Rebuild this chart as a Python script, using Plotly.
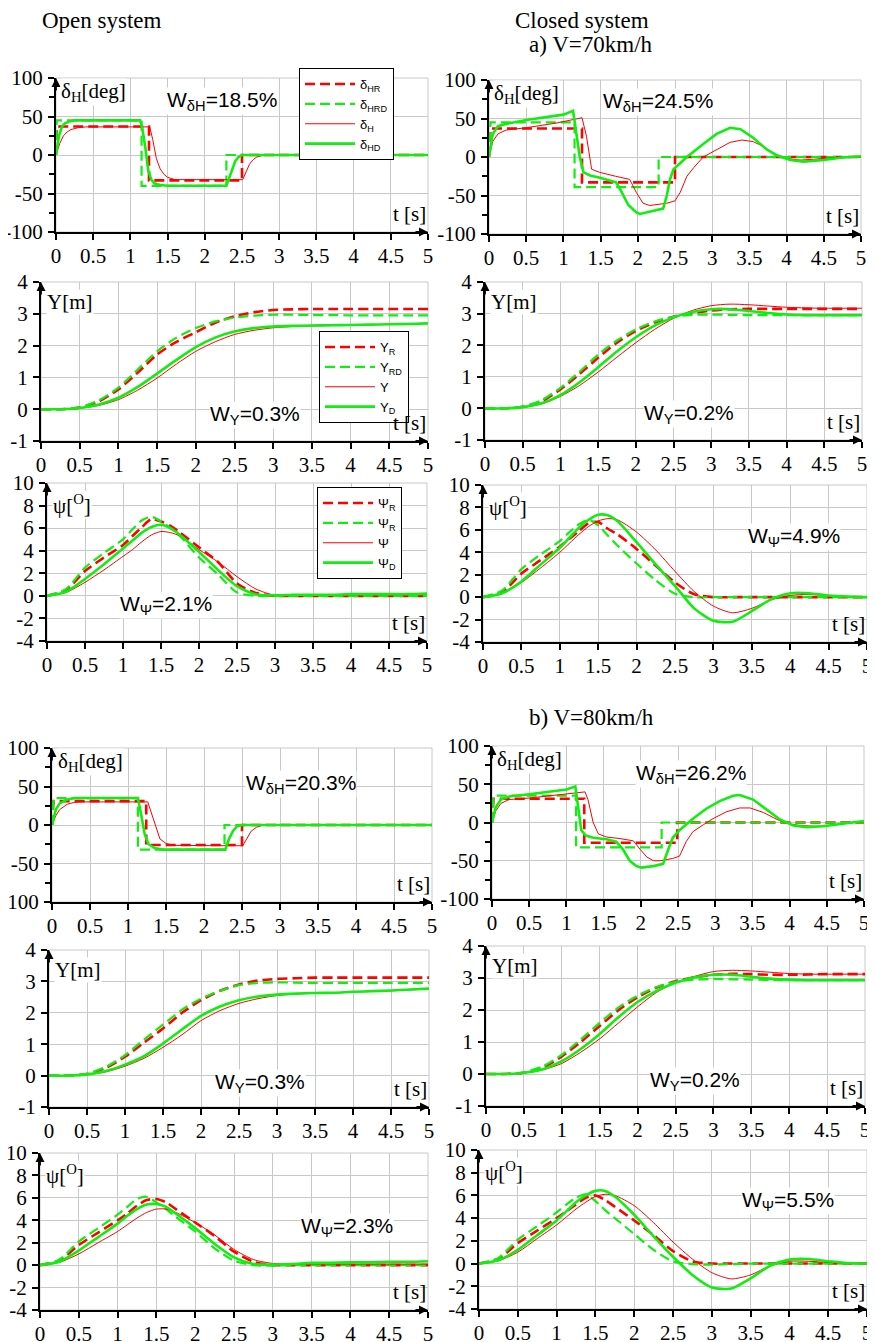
import plotly.graph_objects as go

# ---------------- tick labels ----------------
X_TICKS = [0, 0.5, 1, 1.5, 2, 2.5, 3, 3.5, 4, 4.5, 5]
X_TICK_TEXT = ["0", "0.5", "1", "1.5", "2", "2.5", "3", "3.5", "4", "4.5", "5"]
DH_TICKS = [-100, -50, 0, 50, 100]
DH_TICK_TEXT = ["-100", "-50", "0", "50", "100"]
DH_MINOR = [-75, -25, 25, 75]
Y_TICKS = [-1, 0, 1, 2, 3, 4]
Y_TICK_TEXT = ["-1", "0", "1", "2", "3", "4"]
PSI_TICKS = [-4, -2, 0, 2, 4, 6, 8, 10]
PSI_TICK_TEXT = ["-4", "-2", "0", "2", "4", "6", "8", "10"]

DH_NAMES = ["δ<sub>HR</sub>", "δ<sub>HRD</sub>", "δ<sub>H</sub>", "δ<sub>HD</sub>"]
Y_NAMES = ["Y<sub>R</sub>", "Y<sub>RD</sub>", "Y", "Y<sub>D</sub>"]
PSI_NAMES = ["Ψ<sub>R</sub>", "Ψ<sub>R</sub>", "Ψ", "Ψ<sub>D</sub>"]

HEADERS = ["Open system", "Closed system", "a) V=70km/h", "b) V=80km/h"]
W_LABELS = ["W<sub>δH</sub>=18.5%", "W<sub>δH</sub>=24.5%", "W<sub>Y</sub>=0.3%", "W<sub>Y</sub>=0.2%",
            "W<sub>Ψ</sub>=2.1%", "W<sub>Ψ</sub>=4.9%", "W<sub>δH</sub>=20.3%", "W<sub>δH</sub>=26.2%",
            "W<sub>Y</sub>=0.3%", "W<sub>Y</sub>=0.2%", "W<sub>Ψ</sub>=2.3%", "W<sub>Ψ</sub>=5.5%"]
W_X = [2.23, 2.27, 2.76, 2.7, 1.57, 4.05, 3.28, 2.67, 2.78, 2.76, 3.96, 3.98]
W_Y = [70, 71, -0.18, -0.18, -0.8, 5.36, 53, 63, -0.24, -0.22, 3.4, 5.5]

# ---------------- a) V=70 km/h, open system ----------------
A_OPEN_DHR_T = [0, 0.01, 1.25, 1.25, 2.5, 2.5, 5]
A_OPEN_DHR = [0, 37, 37, -33, -33, 0, 0]
A_OPEN_DHRD_T = [0, 0.01, 1.15, 1.15, 2.29, 2.29, 5]
A_OPEN_DHRD = [0, 45, 45, -40, -40, 0, 0]
A_OPEN_DH_T = [0, 0.05, 0.1, 0.15, 0.2, 0.3, 0.4, 1.26, 1.3, 1.35, 1.4, 1.45, 1.5, 1.6, 2.51, 2.55, 2.6, 2.65, 2.7, 2.8, 5]
A_OPEN_DH = [0, 15, 25, 30, 33, 35.5, 36.5, 36.5, 20, -5, -18, -25, -29, -32, -32, -22, -12, -6, -2.5, 0, 0]
A_OPEN_DHD_T = [0, 0.04, 0.08, 0.12, 0.18, 0.25, 1.13, 1.16, 1.2, 1.24, 1.28, 1.33, 1.4, 1.5, 2.29, 2.33, 2.37, 2.41, 2.45, 2.5, 5]
A_OPEN_DHD = [0, 25, 37, 41, 43.5, 45, 45, 35, 10, -20, -32, -37, -39, -40, -40, -30, -18, -8, -3, 0, 0]

# ---------------- a) V=70 km/h, closed system ----------------
A_CL_DHR_T = [0, 0.02, 1.25, 1.25, 2.5, 2.5, 5]
A_CL_DHR = [0, 37, 37, -33, -33, 0, 0]
A_CL_DHRD_T = [0, 0.02, 1.15, 1.15, 2.28, 2.28, 5]
A_CL_DHRD = [0, 45, 45, -39, -39, 0, 0]
A_CL_DH_T = [0, 0.05, 0.12, 0.23, 0.5, 0.9, 1.25, 1.31, 1.38, 1.49, 1.7, 1.89, 1.98, 2.07, 2.16, 2.39, 2.5, 2.57, 2.66, 2.75, 2.88, 3.06, 3.24, 3.4, 3.55, 3.7, 3.82, 4.0, 4.18, 4.36, 4.63, 5]
A_CL_DH = [0, 20, 30, 35, 38, 44, 51, 27, -16, -20, -25, -29, -46, -60, -63, -60, -57, -46, -25, -14, 0, 10, 19, 22, 20, 13, 5, -2, -4, -3, -1, 0]
A_CL_DHD_T = [0, 0.05, 0.12, 0.23, 0.5, 1.0, 1.13, 1.18, 1.22, 1.27, 1.36, 1.49, 1.62, 1.71, 1.78, 1.87, 1.98, 2.03, 2.2, 2.34, 2.39, 2.43, 2.48, 2.66, 2.88, 3.06, 3.24, 3.38, 3.55, 3.73, 3.87, 4.05, 4.23, 4.5, 4.72, 5]
A_CL_DHD = [0, 30, 40, 43, 48, 55, 60, 30, 0, -20, -24, -27, -30, -33, -45, -62, -72, -74, -70, -67, -50, -30, -16, 0, 17, 30, 38, 36, 25, 10, 2, -4, -6, -4, -1, 1]

# common time grids for Y and psi
T_Y = [0, 0.25, 0.5, 0.75, 1, 1.25, 1.5, 1.75, 2, 2.25, 2.5, 2.75, 3, 3.25, 3.5, 3.75, 4, 4.25, 4.5, 4.75, 5]
T_PSI = [0, 0.25, 0.5, 0.75, 1, 1.125, 1.25, 1.375, 1.5, 1.625, 1.75, 2, 2.25, 2.5, 2.75, 3, 3.25, 3.5, 3.75, 4, 4.25, 4.5, 4.75, 5]

A_OPEN_YR = [0, 0, 0.05, 0.25, 0.62, 1.15, 1.72, 2.12, 2.42, 2.72, 2.92, 3.05, 3.12, 3.14, 3.15, 3.15, 3.15, 3.15, 3.15, 3.15, 3.15]
A_OPEN_YRD = [0, 0, 0.06, 0.28, 0.68, 1.25, 1.82, 2.25, 2.55, 2.76, 2.88, 2.94, 2.97, 2.97, 2.96, 2.96, 2.95, 2.95, 2.95, 2.95, 2.95]
A_OPEN_Y = [0, 0, 0.03, 0.12, 0.3, 0.6, 0.98, 1.42, 1.82, 2.12, 2.35, 2.48, 2.56, 2.6, 2.62, 2.63, 2.65, 2.66, 2.67, 2.68, 2.7]
A_OPEN_YD = [0, 0, 0.04, 0.15, 0.36, 0.7, 1.12, 1.55, 1.95, 2.25, 2.44, 2.55, 2.6, 2.62, 2.63, 2.64, 2.65, 2.66, 2.67, 2.68, 2.7]

A_CL_YR = [0, 0, 0.05, 0.22, 0.6, 1.08, 1.6, 2.08, 2.45, 2.72, 2.9, 3.02, 3.1, 3.14, 3.15, 3.15, 3.15, 3.15, 3.15, 3.15, 3.15]
A_CL_YRD = [0, 0, 0.06, 0.26, 0.65, 1.15, 1.7, 2.15, 2.5, 2.75, 2.9, 2.96, 2.97, 2.96, 2.95, 2.95, 2.95, 2.95, 2.95, 2.95, 2.95]
A_CL_Y = [0, 0, 0.03, 0.14, 0.38, 0.72, 1.15, 1.62, 2.08, 2.5, 2.85, 3.1, 3.25, 3.3, 3.28, 3.24, 3.2, 3.18, 3.17, 3.17, 3.17]
A_CL_YD = [0, 0, 0.04, 0.16, 0.42, 0.82, 1.3, 1.8, 2.25, 2.62, 2.88, 3.05, 3.14, 3.14, 3.08, 3.02, 2.97, 2.95, 2.95, 2.95, 2.95]

A_OPEN_PR = [0, 0.5, 2.2, 3.4, 4.5, 5.3, 6.1, 6.8, 6.6, 6.2, 5.6, 4.3, 3.0, 1.1, 0.25, 0, 0, 0, 0, 0, 0, 0, 0, 0]
A_OPEN_PRD = [0, 0.6, 2.5, 3.8, 5.0, 5.9, 6.7, 7.0, 6.6, 6.0, 5.3, 3.4, 1.9, 0.3, 0, 0, 0, 0, 0, 0, 0, 0, 0, 0]
A_OPEN_P = [0, 0.3, 1.2, 2.3, 3.5, 4.1, 4.8, 5.4, 5.7, 5.6, 5.3, 4.1, 3.0, 1.7, 0.6, 0.05, 0.05, 0.1, 0.1, 0.1, 0.1, 0.1, 0.1, 0.15]
A_OPEN_PD = [0, 0.35, 1.5, 2.8, 4.2, 4.9, 5.6, 6.1, 6.3, 6.0, 5.4, 3.9, 2.3, 0.85, 0.12, 0.05, 0.1, 0.1, 0.1, 0.15, 0.15, 0.15, 0.15, 0.2]

A_CL_PR = [0, 0.45, 2.1, 3.3, 4.5, 5.2, 5.9, 6.6, 6.7, 6.1, 5.6, 4.3, 2.8, 1.3, 0.25, 0, 0, 0, 0, 0, 0, 0, 0, 0]
A_CL_PRD = [0, 0.6, 2.5, 3.8, 5.0, 5.8, 6.5, 6.9, 6.4, 5.5, 4.6, 3.0, 1.5, 0.3, 0, 0, 0, 0, 0, 0, 0, 0, 0, 0]
A_CL_P = [0, 0.3, 1.3, 2.6, 4.0, 4.8, 5.6, 6.3, 6.8, 7.0, 6.9, 5.8, 4.2, 2.3, 0.5, -0.8, -1.4, -1.0, -0.25, 0.15, 0.25, 0.12, 0.05, 0]
A_CL_PD = [0, 0.35, 1.4, 2.9, 4.4, 5.3, 6.2, 6.9, 7.35, 7.3, 6.8, 4.9, 2.9, 1.0, -1.0, -2.1, -2.2, -1.25, -0.2, 0.35, 0.35, 0.15, 0.05, 0]

# ---------------- b) V=80 km/h, open system ----------------
B_OPEN_DHR_T = [0, 0.02, 1.24, 1.24, 2.5, 2.5, 5]
B_OPEN_DHR = [0, 31, 31, -26, -26, 0, 0]
B_OPEN_DHRD_T = [0, 0.02, 1.13, 1.13, 2.27, 2.27, 5]
B_OPEN_DHRD = [0, 35, 35, -32, -32, 0, 0]
B_OPEN_DH_T = [0, 0.05, 0.1, 0.15, 0.2, 0.3, 0.4, 1.26, 1.31, 1.35, 1.42, 1.5, 1.6, 2.51, 2.56, 2.62, 2.69, 2.78, 5]
B_OPEN_DH = [0, 12, 20, 24, 27, 29.5, 30, 30, 15, 0, -18, -24, -26.5, -27, -18, -8, -3, 0, 0]
B_OPEN_DHD_T = [0, 0.05, 0.1, 0.2, 0.3, 1.13, 1.18, 1.22, 1.27, 1.35, 1.45, 2.28, 2.33, 2.38, 2.43, 2.5, 5]
B_OPEN_DHD = [0, 20, 28, 33, 35, 35, 10, -12, -25, -30, -32, -32, -18, -8, -2, 0, 0]

B_OPEN_YR = [0, 0, 0.05, 0.25, 0.6, 1.05, 1.5, 2.0, 2.4, 2.7, 2.9, 3.03, 3.08, 3.1, 3.12, 3.12, 3.12, 3.12, 3.12, 3.12, 3.12]
B_OPEN_YRD = [0, 0, 0.06, 0.28, 0.65, 1.15, 1.62, 2.1, 2.45, 2.7, 2.88, 2.95, 2.97, 2.96, 2.95, 2.95, 2.95, 2.95, 2.95, 2.95, 2.95]
B_OPEN_Y = [0, 0, 0.03, 0.12, 0.3, 0.55, 0.9, 1.3, 1.75, 2.07, 2.3, 2.45, 2.55, 2.6, 2.62, 2.63, 2.66, 2.68, 2.7, 2.73, 2.76]
B_OPEN_YD = [0, 0, 0.04, 0.15, 0.35, 0.62, 1.02, 1.47, 1.9, 2.2, 2.4, 2.52, 2.58, 2.61, 2.63, 2.64, 2.67, 2.69, 2.71, 2.74, 2.77]

B_OPEN_PR = [0, 0.4, 1.8, 2.9, 4.0, 4.6, 5.3, 5.8, 5.9, 5.6, 5.0, 3.8, 2.6, 1.2, 0.3, 0, 0, 0, 0, 0, 0, 0, 0, 0]
B_OPEN_PRD = [0, 0.5, 2.1, 3.3, 4.5, 5.2, 5.9, 6.1, 5.6, 5.0, 4.3, 3.0, 1.5, 0.4, 0, -0.05, 0, 0, 0, 0, 0, 0, 0, 0]
B_OPEN_P = [0, 0.25, 1.0, 2.0, 3.0, 3.6, 4.2, 4.7, 5.0, 5.0, 4.7, 3.8, 2.7, 1.4, 0.5, 0.15, 0.1, 0.1, 0.1, 0.1, 0.1, 0.1, 0.1, 0.1]
B_OPEN_PD = [0, 0.3, 1.3, 2.5, 3.7, 4.4, 5.0, 5.4, 5.45, 5.2, 4.6, 3.3, 1.9, 0.7, 0.1, 0.05, 0.1, 0.2, 0.2, 0.25, 0.25, 0.3, 0.3, 0.35]

# ---------------- b) V=80 km/h, closed system ----------------
B_CL_DHR_T = [0, 0.02, 1.24, 1.24, 2.49, 2.49, 5]
B_CL_DHR = [0, 31, 31, -26.5, -26.5, 0, 0]
B_CL_DHRD_T = [0, 0.02, 1.13, 1.13, 2.28, 2.28, 5]
B_CL_DHRD = [0, 35, 35, -32.5, -32.5, 0, 0]
B_CL_DH_T = [0, 0.05, 0.12, 0.23, 0.5, 1.0, 1.25, 1.29, 1.36, 1.43, 1.54, 1.72, 1.9, 1.99, 2.08, 2.17, 2.26, 2.43, 2.52, 2.61, 2.7, 2.84, 2.97, 3.15, 3.33, 3.47, 3.65, 3.83, 3.96, 4.14, 4.36, 4.54, 4.77, 5]
B_CL_DH = [0, 15, 25, 30, 32, 37, 40, 30, 0, -15, -19, -21, -24, -35, -45, -50, -50, -47, -44, -25, -12, -3, 5, 14, 19, 19, 13, 4, -1, -4, -5, -4, -1, 1]
B_CL_DHD_T = [0, 0.05, 0.12, 0.23, 0.5, 1.0, 1.12, 1.17, 1.2, 1.26, 1.36, 1.54, 1.67, 1.76, 1.85, 1.94, 2.01, 2.17, 2.3, 2.37, 2.43, 2.52, 2.7, 2.88, 3.06, 3.24, 3.33, 3.51, 3.69, 3.87, 4.05, 4.23, 4.45, 4.68, 5]
B_CL_DHD = [0, 20, 30, 34, 37, 43, 47, 10, -10, -17, -20, -22, -25, -35, -50, -57, -59, -57, -54, -35, -20, -10, 5, 18, 28, 35, 36, 30, 17, 4, -4, -6, -5, -2, 2]

B_CL_YR = [0, 0, 0.04, 0.2, 0.55, 1.0, 1.5, 2.0, 2.4, 2.7, 2.9, 3.02, 3.1, 3.13, 3.12, 3.1, 3.1, 3.11, 3.12, 3.12, 3.12]
B_CL_YRD = [0, 0, 0.05, 0.24, 0.6, 1.08, 1.6, 2.08, 2.45, 2.72, 2.88, 2.95, 2.97, 2.96, 2.95, 2.94, 2.93, 2.93, 2.93, 2.93, 2.93]
B_CL_Y = [0, 0, 0.03, 0.13, 0.33, 0.68, 1.1, 1.6, 2.1, 2.55, 2.85, 3.05, 3.2, 3.24, 3.22, 3.18, 3.14, 3.12, 3.12, 3.12, 3.12]
B_CL_YD = [0, 0, 0.04, 0.15, 0.4, 0.78, 1.25, 1.78, 2.25, 2.6, 2.85, 3.02, 3.1, 3.1, 3.04, 2.98, 2.95, 2.93, 2.93, 2.93, 2.93]

B_CL_PR = [0, 0.4, 1.8, 2.9, 4.0, 4.6, 5.2, 5.8, 6.0, 5.6, 5.0, 3.8, 2.5, 1.1, 0.2, 0, 0, 0, 0, 0, 0, 0, 0, 0]
B_CL_PRD = [0, 0.5, 2.1, 3.3, 4.5, 5.2, 5.8, 6.1, 5.5, 4.7, 4.0, 2.6, 1.2, 0.2, -0.05, -0.1, -0.05, 0, 0, 0, 0, 0, 0, 0]
B_CL_P = [0, 0.25, 1.0, 2.2, 3.4, 4.1, 4.8, 5.4, 5.9, 6.1, 6.0, 5.1, 3.6, 1.9, 0.4, -0.8, -1.35, -1.0, -0.2, 0.2, 0.2, 0.1, 0.05, 0]
B_CL_PD = [0, 0.3, 1.2, 2.5, 3.8, 4.6, 5.4, 6.0, 6.4, 6.4, 5.9, 4.3, 2.4, 0.6, -1.0, -2.1, -2.2, -1.3, -0.2, 0.35, 0.4, 0.2, 0.05, 0]

# ---------------- figure construction ----------------
W, H = 875, 1342
PAGE_OFF = 8  # browser body margin; layout positions compensate for it
GREEN = "#10ee10"
RED = "#ff0000"
SERIF = "Liberation Serif"
SANS = "Liberation Sans"
STYLES = [dict(color=RED, width=2.6, dash="10px,5px"),
          dict(color=GREEN, width=2.2, dash="10px,5px"),
          dict(color=RED, width=1.0),
          dict(color=GREEN, width=2.6)]


def fx(px):
    return (px - PAGE_OFF) / W


def fy(py):
    return 1 - (py - PAGE_OFF) / H


# panel pixel boxes on the screen (left, right, top, bottom)
BOXES = [(56, 428, 78, 232), (489, 861, 80, 234),
         (41, 428, 282, 441), (485, 862, 282, 440),
         (47, 427, 483, 641), (483, 867, 485, 642),
         (52, 432, 748, 902), (492, 864, 746, 899),
         (49, 429, 950, 1107), (486, 865, 946, 1106),
         (40, 428, 1153, 1310), (479, 867, 1150, 1309)]

KINDS = ["dh", "dh", "y", "y", "psi", "psi", "dh", "dh", "y", "y", "psi", "psi"]

PANEL_DATA = [
    [(A_OPEN_DHR_T, A_OPEN_DHR), (A_OPEN_DHRD_T, A_OPEN_DHRD), (A_OPEN_DH_T, A_OPEN_DH), (A_OPEN_DHD_T, A_OPEN_DHD)],
    [(A_CL_DHR_T, A_CL_DHR), (A_CL_DHRD_T, A_CL_DHRD), (A_CL_DH_T, A_CL_DH), (A_CL_DHD_T, A_CL_DHD)],
    [(T_Y, A_OPEN_YR), (T_Y, A_OPEN_YRD), (T_Y, A_OPEN_Y), (T_Y, A_OPEN_YD)],
    [(T_Y, A_CL_YR), (T_Y, A_CL_YRD), (T_Y, A_CL_Y), (T_Y, A_CL_YD)],
    [(T_PSI, A_OPEN_PR), (T_PSI, A_OPEN_PRD), (T_PSI, A_OPEN_P), (T_PSI, A_OPEN_PD)],
    [(T_PSI, A_CL_PR), (T_PSI, A_CL_PRD), (T_PSI, A_CL_P), (T_PSI, A_CL_PD)],
    [(B_OPEN_DHR_T, B_OPEN_DHR), (B_OPEN_DHRD_T, B_OPEN_DHRD), (B_OPEN_DH_T, B_OPEN_DH), (B_OPEN_DHD_T, B_OPEN_DHD)],
    [(B_CL_DHR_T, B_CL_DHR), (B_CL_DHRD_T, B_CL_DHRD), (B_CL_DH_T, B_CL_DH), (B_CL_DHD_T, B_CL_DHD)],
    [(T_Y, B_OPEN_YR), (T_Y, B_OPEN_YRD), (T_Y, B_OPEN_Y), (T_Y, B_OPEN_YD)],
    [(T_Y, B_CL_YR), (T_Y, B_CL_YRD), (T_Y, B_CL_Y), (T_Y, B_CL_YD)],
    [(T_PSI, B_OPEN_PR), (T_PSI, B_OPEN_PRD), (T_PSI, B_OPEN_P), (T_PSI, B_OPEN_PD)],
    [(T_PSI, B_CL_PR), (T_PSI, B_CL_PRD), (T_PSI, B_CL_P), (T_PSI, B_CL_PD)],
]

KIND_CFG = {
    "dh": dict(rng=[-100, 100], ticks=DH_TICKS, text=DH_TICK_TEXT, names=DH_NAMES,
               label="δ<sub>H</sub>[deg]", label_y=1.0),
    "y": dict(rng=[-1, 4], ticks=Y_TICKS, text=Y_TICK_TEXT, names=Y_NAMES,
              label="Y[m]", label_y=0.955),
    "psi": dict(rng=[-4, 10], ticks=PSI_TICKS, text=PSI_TICK_TEXT, names=PSI_NAMES,
                label="ψ[<sup>O</sup>]", label_y=0.955),
}

LEGEND_OF = {0: "legend", 2: "legend2", 4: "legend3"}

fig = go.Figure()
layout = dict(width=W, height=H, margin=dict(l=0, r=0, t=0, b=0, autoexpand=False),
              font=dict(family=SERIF, size=21, color="black"),
              paper_bgcolor="white", plot_bgcolor="white", annotations=[], shapes=[])

tick_font = dict(family=SERIF, size=21, color="black")

for i, (box, kind) in enumerate(zip(BOXES, KINDS)):
    n = i + 1
    xs = "x" if n == 1 else f"x{n}"
    ys = "y" if n == 1 else f"y{n}"
    xk = "xaxis" if n == 1 else f"xaxis{n}"
    yk = "yaxis" if n == 1 else f"yaxis{n}"
    l, r, t, b = box
    cfg = KIND_CFG[kind]
    layout[xk] = dict(domain=[fx(l), fx(r)], anchor=ys, range=[0, 5],
                      tickvals=X_TICKS, ticktext=X_TICK_TEXT, tickfont=tick_font,
                      showgrid=True, gridcolor="#c8c8c8", gridwidth=1,
                      showline=True, linecolor="black", linewidth=2,
                      ticks="outside", ticklen=6, tickwidth=1.5, tickcolor="black",
                      zeroline=False, fixedrange=True, automargin=False, ticklabelstandoff=-2)
    ydict = dict(domain=[fy(b), fy(t)], anchor=xs, range=cfg["rng"],
                 tickvals=cfg["ticks"], ticktext=cfg["text"], tickfont=tick_font,
                 showgrid=True, gridcolor="#c8c8c8", gridwidth=1,
                 showline=True, linecolor="black", linewidth=2,
                 ticks="outside", ticklen=6, tickwidth=1.5, tickcolor="black",
                 zeroline=False, fixedrange=True, ticklabelstandoff=1, automargin=False)
    if kind == "dh":
        ydict["minor"] = dict(tickvals=DH_MINOR, ticks="outside", ticklen=5,
                              tickwidth=1.5, tickcolor="black", showgrid=False)
    layout[yk] = ydict

    # light frame on top/right
    xd = "x domain" if n == 1 else f"x{n} domain"
    yd = "y domain" if n == 1 else f"y{n} domain"
    layout["shapes"].append(dict(type="rect", xref=xd, yref=yd, x0=0, x1=1, y0=0, y1=1,
                                 line=dict(color="#c8c8c8", width=1), layer="below"))

    for j, ((tt, vv), st) in enumerate(zip(PANEL_DATA[i], STYLES)):
        tr = dict(x=tt, y=vv, mode="lines", xaxis=xs, yaxis=ys,
                  name=cfg["names"][j], line=dict(**st), hoverinfo="skip")
        if kind != "dh":
            tr["line"]["shape"] = "spline"
            tr["line"]["smoothing"] = 0.7
        if i in LEGEND_OF:
            tr["legend"] = LEGEND_OF[i]
            tr["showlegend"] = True
        else:
            tr["showlegend"] = False
        fig.add_trace(go.Scatter(**tr))

    ymin, ymax = cfg["rng"]
    # axis arrows
    layout["annotations"].append(dict(x=0, y=ymax, xref=xs, yref=ys, text="", showarrow=True,
                                      ax=0, ay=14, arrowhead=2, arrowsize=1, arrowwidth=1.8,
                                      arrowcolor="black"))
    layout["annotations"].append(dict(x=5, y=ymin, xref=xs, yref=ys, text="", showarrow=True,
                                      ax=-14, ay=0, arrowhead=2, arrowsize=1, arrowwidth=1.8,
                                      arrowcolor="black"))
    # axis labels
    layout["annotations"].append(dict(x=0.012, y=cfg["label_y"], xref=xd, yref=yd, text=cfg["label"],
                                      showarrow=False, xanchor="left", yanchor="top",
                                      font=dict(family=SERIF, size=21, color="black"),
                                      bgcolor="white", borderpad=0))
    layout["annotations"].append(dict(x=0.998, y=0.03, xref=xd, yref=yd, text="t [s]",
                                      showarrow=False, xanchor="right", yanchor="bottom",
                                      font=dict(family=SERIF, size=21, color="black"),
                                      borderpad=0))
    # W value
    layout["annotations"].append(dict(x=W_X[i], y=W_Y[i], xref=xs, yref=ys, text=W_LABELS[i],
                                      showarrow=False, xanchor="center", yanchor="middle",
                                      font=dict(family=SANS, size=21, color="black"),
                                      bgcolor="white", borderpad=0))

# headers
hdr_font = dict(family=SERIF, size=23, color="black")
for txt, px, py in zip(HEADERS, [40, 513, 527, 527], [20, 20, 45, 717]):
    layout["annotations"].append(dict(x=fx(px), y=fy(py), xref="paper", yref="paper", text=txt,
                                      showarrow=False, xanchor="left", yanchor="middle", font=hdr_font))

leg_common = dict(xanchor="left", yanchor="top", bgcolor="white", bordercolor="black", borderwidth=1,
                  font=dict(family=SANS, size=13, color="black"), tracegroupgap=0, itemwidth=50)
layout["legend"] = dict(x=fx(299), y=fy(68), **leg_common)
layout["legend2"] = dict(x=fx(319), y=fy(331), **leg_common)
layout["legend3"] = dict(x=fx(317), y=fy(487), **leg_common)

fig.update_layout(**layout)
fig.write_html("out.html")
